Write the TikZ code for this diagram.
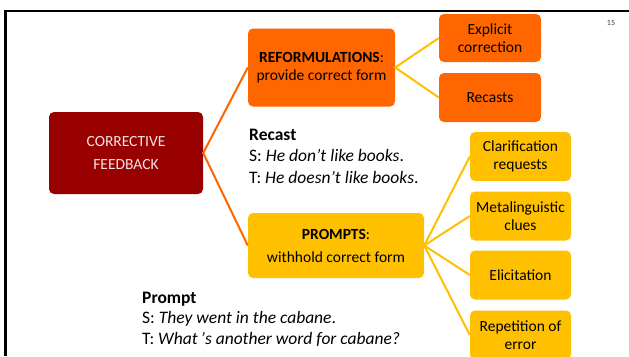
\documentclass[tikz,border=0pt]{standalone}
\usepackage{fontspec}
\setmainfont{Carlito}
\definecolor{cfred}{HTML}{990000}
\definecolor{reforange}{HTML}{FF6600}
\definecolor{promptgold}{HTML}{FFC000}
\definecolor{cftext}{HTML}{F4E4E4}
\definecolor{pagenum}{HTML}{404040}
\begin{document}
\begin{tikzpicture}[x=1pt,y=-1pt,
  box/.style={rounded corners=5pt, inner sep=0pt, align=center, text=black,
    font=\fontsize{15.5}{18}\selectfont},
  orangebox/.style={box, fill=reforange},
  goldbox/.style={box, fill=promptgold},
  leaf/.style={minimum width=101pt, minimum height=49pt},
  orangelink/.style={draw=reforange, line width=2pt},
  goldlink/.style={draw=promptgold, line width=2pt},
  example/.style={anchor=base west, inner sep=0pt, text=black,
    font=\fontsize{17.5}{21}\selectfont}
]
\useasboundingbox (0,0) rectangle (629,356);
\fill[white] (0,0) rectangle (629,356);

% slide frame
\draw[line width=2.5pt, black] (629,11) -- (5.5,11) -- (5.5,356);
\node[font=\fontsize{8}{9}\selectfont, text=pagenum, inner sep=0pt] (pg) at (611,23) {15};

% root
\node[box, fill=cfred, text=cftext, minimum width=154pt, minimum height=82pt,
  font=\fontsize{15.5}{23}\selectfont] (cf) at (126,153) {CORRECTIVE\\FEEDBACK};

% reformulations branch
\node[orangebox, minimum width=147pt, minimum height=78pt] (ref) at (321.5,67.5)
  {\textbf{REFORMULATIONS}:\\provide correct form};
\node[orangebox, leaf, minimum width=102pt, minimum height=48pt] (expl) at (490,38) {Explicit\\correction};
\node[orangebox, leaf, minimum width=102pt, minimum height=49pt] (rec) at (490,97.5) {Recasts};

% prompts branch
\node[goldbox, minimum width=176pt, minimum height=65pt,
  font=\fontsize{15.5}{23}\selectfont] (pr) at (336,245.5)
  {\textbf{PROMPTS}:\\withhold correct form};
\node[goldbox, leaf] (clar) at (520.5,156.5) {Clarification\\requests};
\node[goldbox, leaf] (meta) at (520.5,216) {Metalinguistic\\clues};
\node[goldbox, leaf] (elic) at (520.5,275) {Elicitation};
\node[goldbox, leaf] (rep) at (520.5,335) {Repetition of\\error};

% connectors
\draw[orangelink] (ref.west) -- (cf.east) -- (pr.west);
\draw[goldlink] (expl.west) -- (ref.east) -- (rec.west);
\draw[goldlink] (pr.east) -- (clar.west);
\draw[goldlink] (pr.east) -- (meta.west);
\draw[goldlink] (pr.east) -- (elic.west);
\draw[goldlink] (pr.east) -- (rep.west);

% recast example
\node[example] (rt) at (249,140) {\textbf{Recast}};
\node[example] (rs) at (249,161.5) {S: \textit{He don’t like books}.};
\node[example] (rtt) at (249,183) {T: \textit{He doesn’t like books}.};

% prompt example
\node[example] (pt) at (142,303) {\textbf{Prompt}};
\node[example] (ps) at (142,323.5) {S: \textit{They went in the cabane}.};
\node[example] (ptt) at (142,344) {T: \textit{What\hspace{3pt}ʼs another word for cabane?}};
\end{tikzpicture}
\end{document}
